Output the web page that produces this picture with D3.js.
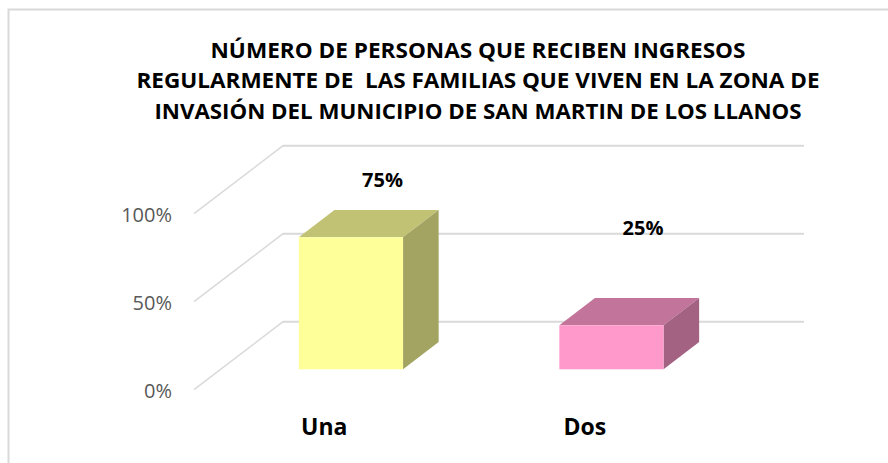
<!DOCTYPE html>
<html>
<head>
<meta charset="utf-8">
<script src="https://cdn.jsdelivr.net/npm/d3@7"></script>
<style>
  html, body { margin: 0; padding: 0; background: #fff; }
  svg { display: block; }
</style>
</head>
<body>
<div id="chart"></div>
<script>
// data
var categories = ["Una", "Dos"];
var values = [0.75, 0.25];
var valueLabels = ["75%", "25%"];
var tickValues = [0, 0.5, 1];
var tickLabels = ["0%", "50%", "100%"];
var titleLines = [
  "NÚMERO DE PERSONAS QUE RECIBEN INGRESOS",
  "REGULARMENTE DE  LAS FAMILIAS QUE VIVEN EN LA ZONA DE",
  "INVASIÓN DEL MUNICIPIO DE SAN MARTIN DE LOS LLANOS"
];

var svgWidth = 888;
var svgHeight = 463;

// colours: front, top, side
var palette = [
  { front: "#FFFF99", top: "#C2C274", side: "#A3A362" },
  { front: "#FF99CC", top: "#C2749B", side: "#A36282" }
];

var svg = d3.select("#chart")
  .append("svg")
  .attr("width", svgWidth)
  .attr("height", svgHeight);

// chart border
svg.append("rect")
  .attr("x", 8.5).attr("y", 9.5)
  .attr("width", 900).attr("height", 480)
  .attr("fill", "#fff")
  .attr("stroke", "#d9d9d9")
  .attr("stroke-width", 2);

// title
var titleWidths = [535, 683, 647];
var titleBase = [57.5, 88, 119];
svg.append("g").selectAll("text")
  .data(titleLines)
  .enter()
  .append("text")
  .attr("x", 478)
  .attr("y", (d, i) => titleBase[i])
  .attr("text-anchor", "middle")
  .attr("textLength", (d, i) => titleWidths[i])
  .attr("lengthAdjust", "spacingAndGlyphs")
  .attr("font-family", "'Open Sans', sans-serif")
  .attr("font-weight", "bold")
  .attr("font-size", "21px")
  .attr("fill", "#000")
  .style("white-space", "pre")
  .text(d => d);

// back wall scales, depth is an oblique offset toward the viewer
var x = d3.scaleBand()
  .domain(categories)
  .range([283, 804]);

var y = d3.scaleLinear()
  .domain([0, 1])
  .range([321.7, 145.7]);

var DX = -89, DY = 68;
var barDepth = [0.3, 0.7];   // back and front of the bars (0 = wall, 1 = front)
var barW = x.bandwidth() * 0.4;

var grid = svg.append("g");

// gridlines on the back wall and along the side wall
tickValues.forEach(function(t) {
  grid.append("line")
    .attr("x1", x.range()[0]).attr("x2", x.range()[1])
    .attr("y1", y(t)).attr("y2", y(t))
    .attr("stroke", "#d9d9d9")
    .attr("stroke-width", 2);
  grid.append("line")
    .attr("x1", x.range()[0]).attr("y1", y(t))
    .attr("x2", x.range()[0] + DX).attr("y2", y(t) + DY)
    .attr("stroke", "#d9d9d9")
    .attr("stroke-width", 1.5);
});

// y tick labels at the front plane
svg.append("g").selectAll("text")
  .data(tickValues)
  .enter()
  .append("text")
  .attr("x", x.range()[0] + DX - 22)
  .attr("y", d => y(d) + DY + 8.5)
  .attr("text-anchor", "end")
  .attr("font-family", "'Open Sans', sans-serif")
  .attr("font-size", "20px")
  .attr("fill", "#595959")
  .text((d, i) => tickLabels[i]);

// bars
function pt(px, py) { return px + "," + py; }

var bars = svg.append("g").selectAll("g")
  .data(categories)
  .enter()
  .append("g");

bars.each(function(c, i) {
  var g = d3.select(this);
  var cx = x(c) + x.bandwidth() / 2;
  var fx = DX * barDepth[1], fy = DY * barDepth[1];
  var bx = DX * barDepth[0], by = DY * barDepth[0];
  var l = cx - barW / 2, r = cx + barW / 2;
  var top = y(values[i]), bot = y(0);
  var col = palette[i];

  // top face
  g.append("polygon")
    .attr("points", [
      pt(l + fx, top + fy), pt(r + fx, top + fy),
      pt(r + bx, top + by), pt(l + bx, top + by)
    ].join(" "))
    .attr("fill", col.top);

  // side face
  g.append("polygon")
    .attr("points", [
      pt(r + fx, top + fy), pt(r + bx, top + by),
      pt(r + bx, bot + by), pt(r + fx, bot + fy)
    ].join(" "))
    .attr("fill", col.side);

  // front face
  g.append("rect")
    .attr("x", l + fx)
    .attr("y", top + fy)
    .attr("width", barW)
    .attr("height", bot - top)
    .attr("fill", col.front);
});

// value labels
var labelLift = [-23, -63];
svg.append("g").selectAll("text")
  .data(categories)
  .enter()
  .append("text")
  .attr("x", d => x(d) + x.bandwidth() / 2 + DX * barDepth[0] - 4)
  .attr("y", (d, i) => y(values[i]) + DY * barDepth[0] + labelLift[i])
  .attr("text-anchor", "middle")
  .attr("font-family", "'Open Sans', sans-serif")
  .attr("font-weight", "bold")
  .attr("font-size", "20px")
  .attr("fill", "#000")
  .text((d, i) => valueLabels[i]);

// category labels at the front plane
svg.append("g").selectAll("text")
  .data(categories)
  .enter()
  .append("text")
  .attr("x", d => x(d) + x.bandwidth() / 2 + DX)
  .attr("y", 435)
  .attr("text-anchor", "middle")
  .attr("font-family", "'Open Sans', sans-serif")
  .attr("font-weight", "bold")
  .attr("font-size", "23px")
  .attr("fill", "#000")
  .text(d => d);
</script>
</body>
</html>
